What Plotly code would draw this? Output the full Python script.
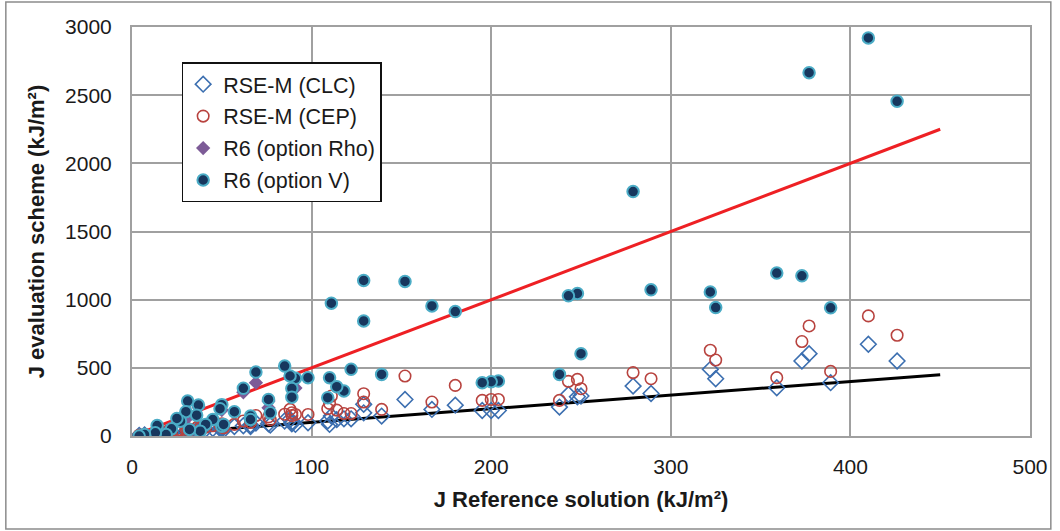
import plotly.graph_objects as go

# Shared reference-solution values (x) for each case
j_ref = [426, 410, 389, 377, 373, 359, 325, 322, 289, 279, 250, 248, 243, 238,
         204, 200, 195, 180, 167, 152, 139, 129, 129, 122, 118, 114, 111, 110,
         109, 98, 91, 88, 85, 89, 89, 76, 77, 69, 62, 57, 66, 66, 50, 49, 50,
         45, 51, 41, 38, 37, 36, 31, 30, 27, 25, 32, 22, 19, 14, 13, 7, 4]
rse_clc = [550, 673, 391, 604, 550, 354, 420, 489, 312, 366, 293, 288, 305, 212,
           187, 187, 187, 226, 195, 268, 146, 232, 170, 126, 126, 120, 146, 85,
           110, 97, 85, 121, 110, 100, 90, 90, 80, 95, 75, 70, 80, 70, 60, 55, 50,
           55, 45, 50, 40, 45, 40, 40, 35, 30, 30, 35, 25, 20, 18, 15, 8, 5]
rse_cep = [739, 881, 474, 807, 693, 428, 557, 629, 420, 465, 347, 415, 401, 261,
           268, 268, 261, 371, 249, 440, 195, 310, 249, 165, 165, 190, 293, 239,
           200, 158, 158, 195, 160, 150, 170, 140, 120, 150, 110, 85, 120, 100, 90,
           80, 70, 75, 60, 65, 55, 70, 60, 55, 50, 45, 40, 45, 35, 30, 25, 20, 12, 6]
r6_v = [2455, 2920, 940, 2665, 1175, 1195, 942, 1057, 1072, 1793, 604, 1046, 1028,
        452, 403, 398, 391, 913, 954, 1134, 452, 1141, 844, 489, 330, 362, 974,
        428, 281, 428, 423, 440, 513, 349, 285, 268, 170, 469, 350, 178, 146, 121,
        230, 200, 72, 121, 85, 85, 35, 227, 153, 256, 178, 109, 129, 48, 53, 11,
        77, 23, 11, 0]

# R6 (option Rho): only the points that are visible
rho_x = [69, 91, 76, 76, 31, 62, 50, 37]
rho_y = [391, 352, 256, 207, 136, 320, 190, 210]

# Reference lines
line_x = [0, 450]
red_y = [0, 2250]
black_y = [0, 450]

series_names = ["RSE-M (CLC)", "RSE-M (CEP)", "R6 (option Rho)", "R6 (option V)"]

FONT = "Liberation Sans, Arial, sans-serif"
TXT = "#1a1a1a"

fig = go.Figure()
fig.add_trace(go.Scatter(x=line_x, y=red_y, mode="lines",
                         line=dict(color="#EE2024", width=3), showlegend=False, hoverinfo="skip"))
fig.add_trace(go.Scatter(x=line_x, y=black_y, mode="lines",
                         line=dict(color="#000000", width=3), showlegend=False, hoverinfo="skip"))
fig.add_trace(go.Scatter(x=j_ref, y=rse_clc, mode="markers", name=series_names[0],
                         legendgroup="a",
                         marker=dict(symbol="diamond-open", size=12, color="#3C6FB0",
                                     line=dict(width=1.6, color="#3C6FB0"))))
fig.add_trace(go.Scatter(x=j_ref, y=rse_cep, mode="markers", name=series_names[1],
                         legendgroup="b",
                         marker=dict(symbol="circle-open", size=11.5, color="#B8433F",
                                     line=dict(width=1.6, color="#B8433F"))))
fig.add_trace(go.Scatter(x=rho_x, y=rho_y, mode="markers", name=series_names[2],
                         legendgroup="c",
                         marker=dict(symbol="diamond", size=11, color="#7D5B97",
                                     line=dict(width=0))))
fig.add_trace(go.Scatter(x=j_ref, y=r6_v, mode="markers", name=series_names[3],
                         legendgroup="d",
                         marker=dict(symbol="circle", size=11.5, color="#17375E",
                                     line=dict(width=2, color="#4BACC6"))))

grid = "#a0a0a0"
fig.update_layout(
    width=1060, height=531,
    margin=dict(l=132, r=24, t=27, b=95),
    paper_bgcolor="white", plot_bgcolor="white",
    font=dict(family=FONT, size=21, color=TXT),
    showlegend=True,
    legend=dict(x=0.0553, y=0.914, xanchor="left", yanchor="top",
                bgcolor="white", bordercolor="#111111", borderwidth=1.5,
                font=dict(size=21.5, family=FONT, color=TXT),
                traceorder="grouped", tracegroupgap=1, itemsizing="trace"),
    xaxis=dict(range=[0, 500], tick0=0, dtick=100, showgrid=True, gridcolor=grid,
               gridwidth=1.5, showline=True, linecolor=grid, linewidth=2, mirror=True,
               zeroline=False, ticks="", ticklabelstandoff=11,
               tickfont=dict(size=21, family=FONT, color=TXT),
               title=dict(text="<b>J Reference solution (kJ/m²)</b>", standoff=14,
                          font=dict(size=22, family=FONT, color=TXT))),
    yaxis=dict(range=[0, 3000], tick0=0, dtick=500, showgrid=True, gridcolor=grid,
               gridwidth=1.5, showline=True, linecolor=grid, linewidth=2, mirror=True,
               zeroline=False, ticks="", ticklabelstandoff=14,
               tickfont=dict(size=21, family=FONT, color=TXT),
               title=dict(text="<b>J evaluation scheme (kJ/m²)</b>", standoff=14,
                          font=dict(size=22, family=FONT, color=TXT))),
    shapes=[dict(type="rect", xref="paper", yref="paper",
                 x0=-0.1405, x1=1.0232, y0=-0.2274, y1=1.0611,
                 line=dict(color="#8c8c8c", width=1.5), fillcolor="rgba(0,0,0,0)",
                 layer="above")],
)

fig.write_html("out.html")
